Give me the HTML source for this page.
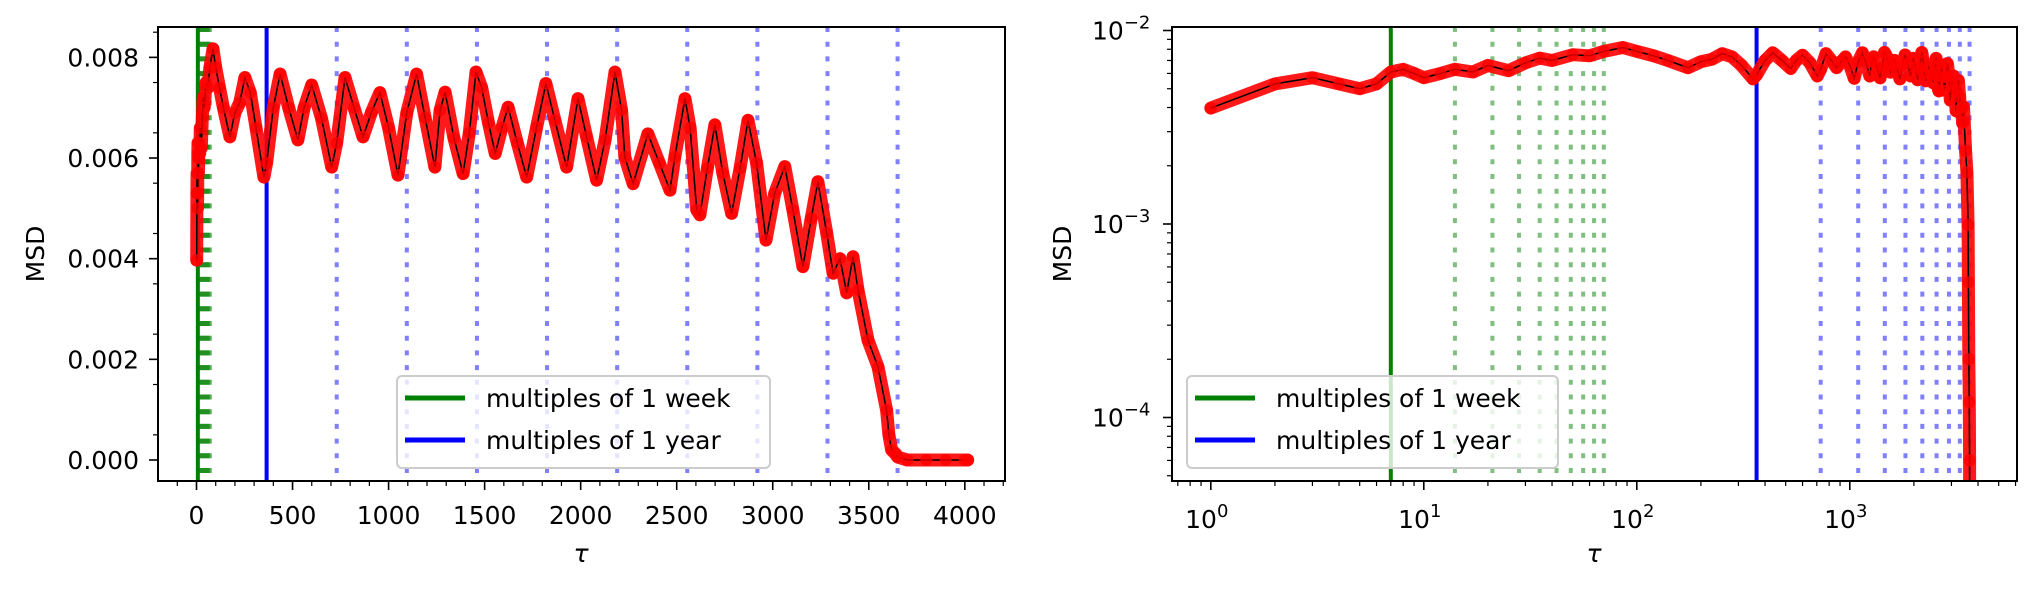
<!DOCTYPE html>
<html><head><meta charset="utf-8"><style>
html,body{margin:0;padding:0;background:#fff;}
svg{display:block;font-family:"DejaVu Sans","Liberation Sans",sans-serif;}
</style></head><body>
<svg id="fig" width="2037" height="589" viewBox="0 0 2037 589" xmlns="http://www.w3.org/2000/svg">
<g id="left"></g>
<g id="right"></g>
</svg>
<script>
const taus = [1,2,3,4,5,6,7,8,9,10,12,14,17,20,25,30,35,40,50,60,70,86,100,120,140,174,200,225,252,280,310,351,365,400,435,480,528,560,600,650,704,730,773,820,867,910,955,1000,1049,1095,1146,1190,1241,1268,1294,1340,1388,1420,1455,1485,1520,1555,1590,1622,1670,1719,1771,1819,1866,1927,1986,2031,2083,2127,2179,2213,2230,2273,2350,2410,2465,2490,2543,2570,2604,2621,2660,2699,2740,2786,2830,2871,2916,2965,3010,3063,3105,3157,3200,3235,3281,3314,3350,3385,3418,3444,3496,3548,3593,3605,3619,3640,3650,3700,3800,3900,4000,4015];
const msdMilli = [3.97,5.3,5.7,5.3,5.0,5.3,6.1,6.3,6.0,5.7,6.0,6.3,6.1,6.6,6.2,6.8,7.2,7.0,7.5,7.4,7.8,8.17,7.8,7.4,7.0,6.42,6.9,7.1,7.6,7.3,6.6,5.62,5.9,7.0,7.67,7.0,6.36,7.0,7.45,6.8,5.82,6.3,7.6,7.0,6.42,6.9,7.3,6.6,5.66,6.9,7.67,6.8,5.82,6.95,7.31,6.4,5.69,6.5,7.71,7.4,6.7,6.09,6.6,7.01,6.3,5.62,6.62,7.48,6.75,5.82,7.18,6.42,5.56,6.36,7.71,6.95,6.02,5.49,6.48,5.9,5.36,6.02,7.18,6.6,4.97,4.87,5.8,6.66,5.7,4.9,5.8,6.75,5.9,4.37,5.3,5.83,4.97,3.84,4.8,5.53,4.51,3.71,4.0,3.32,4.04,3.38,2.38,1.85,0.99,0.5,0.2,0.12,0.06,0,0,0,0,0];
const weekMultiples = [7,14,21,28,35,42,49,56,63,70];
const yearMultiples = [365,730,1095,1460,1825,2190,2555,2920,3285,3650];
const linXTicks = [0,500,1000,1500,2000,2500,3000,3500,4000];
const linYTicks = [0,0.002,0.004,0.006,0.008];
const linYLabels = ["0.000","0.002","0.004","0.006","0.008"];
const logXExps = [0,1,2,3];
const logYExps = [-2,-3,-4];

const NS="http://www.w3.org/2000/svg";
function mk(parent,tag,attrs,text){const e=document.createElementNS(NS,tag);for(const k in attrs)e.setAttribute(k,attrs[k]);if(text!==undefined)e.textContent=text;parent.appendChild(e);return e;}
const msd = msdMilli.map(v=>v*1e-3);

/* ---------- LEFT (linear) ---------- */
const L={x0:158,x1:1005,y0:27,y1:481};
const lx=t=>196.5+t*0.19208;
const ly=v=>460-v*50330;
const gl=document.getElementById('left');
function vlines(g,xs,fx,top,bot,color,dotted,name){
  xs.forEach((t,i)=>{const X=fx(t);
    const a={x1:X,x2:X,y1:top,y2:bot,stroke:color,'stroke-width':4};
    if(dotted){a['stroke-dasharray']='5,9.7';a['stroke-opacity']=0.5;}
    const l=mk(g,'line',a);
    
    
  });
}
vlines(gl,weekMultiples.slice(1),lx,L.y0,L.y1,'#008000',true,'week-multiple-line');
vlines(gl,yearMultiples.slice(1),lx,L.y0,L.y1,'#0000ff',true,'year-multiple-line');
vlines(gl,[7],lx,L.y0,L.y1,'#008000',false,'first-week-line');
vlines(gl,[365],lx,L.y0,L.y1,'#0000ff',false,'first-year-line');
function series(g,pts,name){
  const d=pts.map(p=>p[0].toFixed(1)+','+p[1].toFixed(1)).join(' ');
  const band=mk(g,'polyline',{points:d,fill:'none',stroke:'#ff0000','stroke-opacity':0.9,'stroke-width':13,'stroke-linejoin':'round','stroke-linecap':'round'});
  
  
  const ln=mk(g,'polyline',{points:d,fill:'none',stroke:'#000','stroke-width':1.5});
  
  
  pts.forEach(p=>{const c=mk(g,'circle',{cx:p[0],cy:p[1],r:5.5,fill:'#ff0000','fill-opacity':0.75,stroke:'#ff0000','stroke-opacity':0.5,'stroke-width':1.5});
    
    });
}
series(gl,taus.map((t,i)=>[lx(t),ly(msd[i])]),'msd');
const fl=mk(gl,'rect',{x:L.x0,y:L.y0,width:L.x1-L.x0,height:L.y1-L.y0,fill:'none',stroke:'#000','stroke-width':2});


linXTicks.forEach(t=>{const X=lx(t);mk(gl,'line',{x1:X,x2:X,y1:L.y1,y2:L.y1+9,stroke:'#000','stroke-width':1.6});
  const tx=mk(gl,'text',{x:X,y:524,'font-size':25,'text-anchor':'middle'},String(t));
  
  });
for(let t=-100;t<=4200;t+=100){if(t%500===0)continue;const X=lx(t);mk(gl,'line',{x1:X,x2:X,y1:L.y1,y2:L.y1+5,stroke:'#000','stroke-width':1.2});}
linYTicks.forEach((v,i)=>{const Y=ly(v);mk(gl,'line',{x1:L.x0-9,x2:L.x0,y1:Y,y2:Y,stroke:'#000','stroke-width':1.6});
  const tx=mk(gl,'text',{x:139,y:Y+9,'font-size':25,'text-anchor':'end'},linYLabels[i]);
  
  });
for(let k=1;k<=17;k+=2){const Y=ly(k*0.0005);mk(gl,'line',{x1:L.x0-5,x2:L.x0,y1:Y,y2:Y,stroke:'#000','stroke-width':1.2});}
let t1=mk(gl,'text',{x:581,y:562,'font-size':25,'text-anchor':'middle','font-style':'italic'},'τ');

let t2=mk(gl,'text',{x:0,y:0,'font-size':25,'text-anchor':'middle',transform:'translate(44,254) rotate(-90)'},'MSD');


function legend(g,x,y,w,h){
  const lg=mk(g,'g',{});
  
  
  mk(lg,'rect',{x:x,y:y,width:w,height:h,rx:5,fill:'#fff','fill-opacity':0.8,stroke:'#cccccc','stroke-width':2});
  const e1=mk(lg,'g',{});
  mk(e1,'line',{x1:x+8,x2:x+68,y1:y+22,y2:y+22,stroke:'#008000','stroke-width':5});
  mk(e1,'text',{x:x+89,y:y+31,'font-size':25},'multiples of 1 week');
  const e2=mk(lg,'g',{});
  mk(e2,'line',{x1:x+8,x2:x+68,y1:y+64,y2:y+64,stroke:'#0000ff','stroke-width':5});
  mk(e2,'text',{x:x+89,y:y+73,'font-size':25},'multiples of 1 year');
}
legend(gl,397,376,373,92);

/* ---------- RIGHT (log-log) ---------- */
const R={x0:1172,x1:2017,y0:27,y1:481};
const rx=t=>1210.8+213*Math.log10(t);
const ry=v=>30.5+193.5*(-2-Math.log10(v));
const gr=document.getElementById('right');
vlines(gr,weekMultiples.slice(1),rx,R.y0,R.y1,'#008000',true,'week-multiple-line');
vlines(gr,yearMultiples.slice(1),rx,R.y0,R.y1,'#0000ff',true,'year-multiple-line');
vlines(gr,[7],rx,R.y0,R.y1,'#008000',false,'first-week-line');
vlines(gr,[365],rx,R.y0,R.y1,'#0000ff',false,'first-year-line');
const cp=document.createElementNS(NS,'clipPath');cp.setAttribute('id','rclip');
mk(cp,'rect',{x:R.x0,y:R.y0,width:R.x1-R.x0,height:R.y1-R.y0});gr.appendChild(cp);
const rs=mk(gr,'g',{'clip-path':'url(#rclip)'});

const rpts=[];taus.forEach((t,i)=>{if(msd[i]>0)rpts.push([rx(t),ry(msd[i])]);});
rpts.push([rx(3652),R.y1+10]);
series(rs,rpts,'msd-log');
const fr=mk(gr,'rect',{x:R.x0,y:R.y0,width:R.x1-R.x0,height:R.y1-R.y0,fill:'none',stroke:'#000','stroke-width':2});

logXExps.forEach(e=>{const X=rx(Math.pow(10,e));mk(gr,'line',{x1:X,x2:X,y1:R.y1,y2:R.y1+9,stroke:'#000','stroke-width':1.6});
  const tx=mk(gr,'text',{x:X-4,y:528,'font-size':25,'text-anchor':'middle'});
  
  tx.textContent='10';mk(tx,'tspan',{dy:-11,'font-size':18},String(e));});
for(let e=-1;e<=3;e++)for(let m=2;m<=9;m++){const X=rx(m*Math.pow(10,e));if(X<R.x0||X>R.x1)continue;mk(gr,'line',{x1:X,x2:X,y1:R.y1,y2:R.y1+5,stroke:'#000','stroke-width':1.2});}
logYExps.forEach(e=>{const Y=ry(Math.pow(10,e));mk(gr,'line',{x1:R.x0-9,x2:R.x0,y1:Y,y2:Y,stroke:'#000','stroke-width':1.6});
  const tx=mk(gr,'text',{x:1092,y:Y+9,'font-size':25});
  
  tx.textContent='10';mk(tx,'tspan',{dy:-11,'font-size':18},'−'+String(-e));});
for(let e=-5;e<=-2;e++)for(let m=2;m<=9;m++){const Y=ry(m*Math.pow(10,e));if(Y<R.y0||Y>R.y1)continue;mk(gr,'line',{x1:R.x0-5,x2:R.x0,y1:Y,y2:Y,stroke:'#000','stroke-width':1.2});}
let t3=mk(gr,'text',{x:1594,y:562,'font-size':25,'text-anchor':'middle','font-style':'italic'},'τ');

let t4=mk(gr,'text',{x:0,y:0,'font-size':25,'text-anchor':'middle',transform:'translate(1071,254) rotate(-90)'},'MSD');

legend(gr,1187,376,371,92);
</script>
</body></html>
